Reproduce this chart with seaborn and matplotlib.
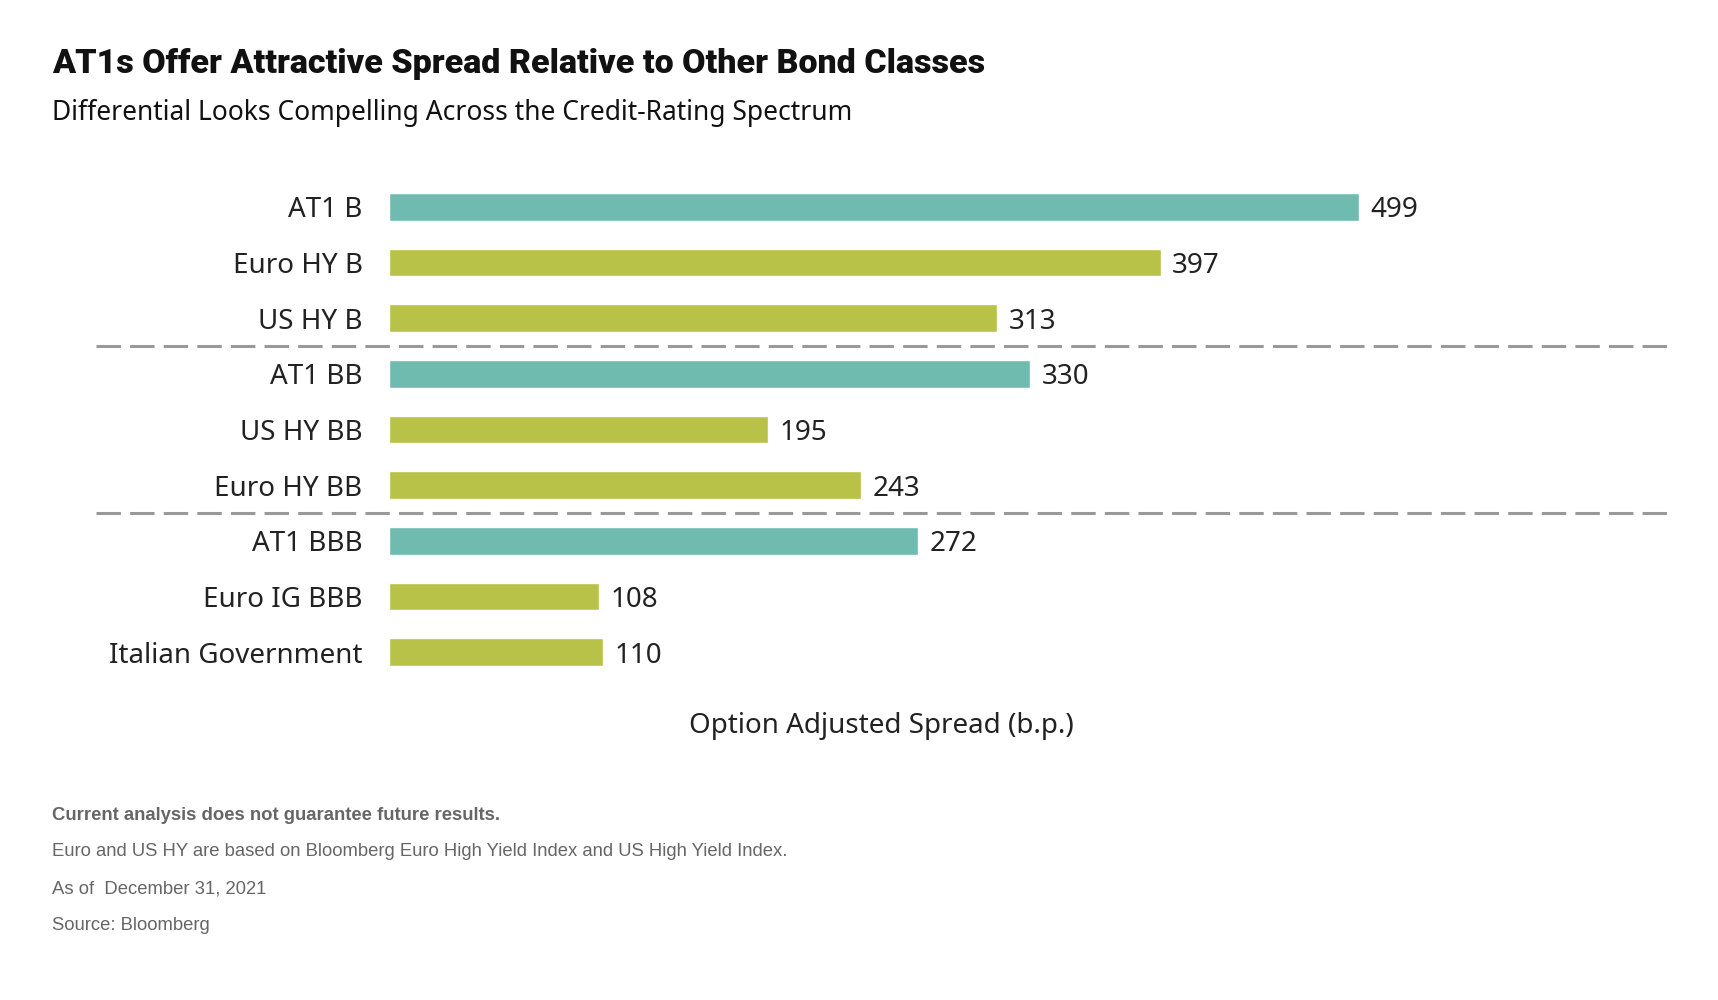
import pandas as pd
import matplotlib.pyplot as plt
import seaborn as sns

# data
categories = ["AT1 B", "Euro HY B", "US HY B",
              "AT1 BB", "US HY BB", "Euro HY BB",
              "AT1 BBB", "Euro IG BBB", "Italian Government"]
spreads = [499, 397, 313, 330, 195, 243, 272, 108, 110]
kinds = ["AT1", "Other", "Other", "AT1", "Other", "Other", "AT1", "Other", "Other"]

title = "AT1s Offer Attractive Spread Relative to Other Bond Classes"
subtitle = "Differential Looks Compelling Across the Credit-Rating Spectrum"
xlabel = "Option Adjusted Spread (b.p.)"
notes = ["Euro and US HY are based on Bloomberg Euro High Yield Index and US High Yield Index.",
         "As of  December 31, 2021",
         "Source: Bloomberg"]
bold_note = "Current analysis does not guarantee future results."

df = pd.DataFrame({"category": categories, "spread": spreads, "kind": kinds})

sns.set_style("white")
plt.rcParams['font.family'] = ['Noto Sans', 'DejaVu Sans']

label_font = dict(family='Noto Sans', color='#222222')

fig = plt.figure(figsize=(17.18, 10), dpi=100)
ax = fig.add_axes([389/1718, 1 - 680/1000, 1166/1718, 501/1000])

sns.barplot(data=df, x="spread", y="category", hue="kind",
            palette={"AT1": "#6fbbaf", "Other": "#b8c248"},
            width=0.5, dodge=False, legend=False, ax=ax, saturation=1)

ax.set_xlim(0, 600)
ax.set_ylim(8.5, -0.5)
sns.despine(ax=ax, left=True, bottom=True)
ax.set_xticks([])
ax.tick_params(axis='y', length=0, pad=19)
for t in ax.get_yticklabels():
    t.set_fontsize(20)
    t.set_fontfamily('Noto Sans')
    t.set_color('#222222')
ax.set_ylabel("")

for i, v in enumerate(spreads):
    ax.text(v + 6, i, str(v), va='center_baseline', ha='left', fontsize=20, **label_font)

# group separators
for yy in [2.5, 5.5]:
    ax.axhline(yy, xmin=-0.251, xmax=1.097, color='#999999', lw=2.2,
               dashes=(8, 3), clip_on=False)

ax.set_xlabel(xlabel, fontsize=20, **label_font)
ax.xaxis.set_label_coords((881 - 389) / 1166, -(726 - 680) / 501)
ax.xaxis.label.set_va('center')

fig.text(52/1718, 1 - 73/1000, title, fontsize=24.5, fontweight='heavy',
         family='Roboto', color='#111111', va='baseline')
fig.text(52/1718, 1 - 113/1000, subtitle, fontsize=19,
         family='Noto Sans', color='#111111', va='center')

fig.text(52/1718, 1 - 816/1000, bold_note, fontsize=13.3, fontweight='bold',
         family='Liberation Sans', color='#666666', va='center')
for k, note in enumerate(notes):
    fig.text(52/1718, 1 - (852 + 36.5 * k)/1000, note, fontsize=13.3,
             family='Liberation Sans', color='#666666', va='center')

fig.savefig("out.png", dpi=100)
